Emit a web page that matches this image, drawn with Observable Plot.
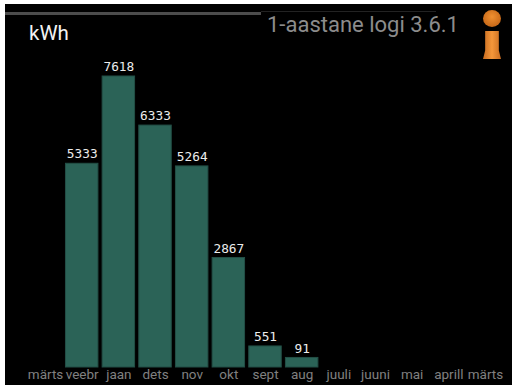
<!DOCTYPE html>
<html><head><meta charset="utf-8">
<script src="https://cdn.jsdelivr.net/npm/d3@7"></script>
<script src="https://cdn.jsdelivr.net/npm/@observablehq/plot@0.6"></script>
<style>
html,body{margin:0;padding:0;background:#fff;overflow:hidden}
#wrap{position:absolute;left:5px;top:4px;width:507px;height:381px;background:#000;overflow:hidden}
#wrap svg{position:absolute;left:-5px;top:-4px;background:transparent;max-width:none!important;width:512px;height:385px}
.t{position:absolute;white-space:nowrap;font-family:Roboto,sans-serif}
#rule1{position:absolute;left:0;top:8px;width:256px;height:3px;background:#4c4c4c}
#rule2{position:absolute;left:256px;top:7px;width:175px;height:1px;background:#222}
#unit{left:24px;top:17px;font-size:20.5px;color:#f2f2f2}
#title{left:262px;top:8px;font-size:22px;color:#8c8c8c}
#dot{position:absolute;left:478px;top:6px;width:18px;height:17px;border-radius:50%;background:radial-gradient(circle at 50% 40%,#f09030,#b85a10)}
#stem{position:absolute;left:478px;top:27px;width:18px;height:28px;background:linear-gradient(90deg,#c86c20,#f5973a 50%,#c86c20);clip-path:polygon(12% 0,88% 0,88% 70%,100% 100%,0 100%,12% 70%)}
</style></head>
<body><div id="wrap">
<div id="rule1"></div><div id="rule2"></div>
<div id="unit" class="t">kWh</div>
<div id="title" class="t">1-aastane logi 3.6.1</div>
<div id="dot"></div><div id="stem"></div>
</div>
<script>
const months = ["märts","veebr","jaan","dets","nov","okt","sept","aug","juuli","juuni","mai","aprill","märts"];
const values = [null,5333,7618,6333,5264,2867,551,91,null,null,null,null,null];
// the source chart never draws a bar shorter than this stub
const minBarValue = 250;
const slots = months.map((_, i) => i);
const rows = slots.filter(i => values[i] != null).map(i => ({slot: i, value: values[i], drawn: Math.max(values[i], minBarValue)}));
const chart = Plot.plot({
  width: 512, height: 385,
  marginTop: 76, marginRight: 9, marginBottom: 18, marginLeft: 26,
  style: {background: "transparent"},
  x: {type: "band", domain: slots, range: [26.7, 503.3], round: false, paddingInner: 0.115, paddingOuter: 0.0575, axis: null},
  y: {domain: [0, 7618], axis: null},
  marks: [
    Plot.barY(rows, {x: "slot", y: "drawn", fill: "#2b6357", stroke: "#234f46", strokeWidth: 1}),
    Plot.text(rows, {x: "slot", y: "drawn", text: d => String(d.value), dy: -9.5, fill: "#ececec",
      fontFamily: "DejaVu Sans Mono, monospace", fontSize: 12.8}),
    Plot.axisX({anchor: "bottom", tickSize: 0, tickPadding: 2, label: null,
      tickFormat: i => months[i], fill: "#808080", stroke: "none", fontFamily: "Roboto, sans-serif", fontSize: 13.5})
  ]
});
document.getElementById("wrap").appendChild(chart);
</script>
</body></html>
